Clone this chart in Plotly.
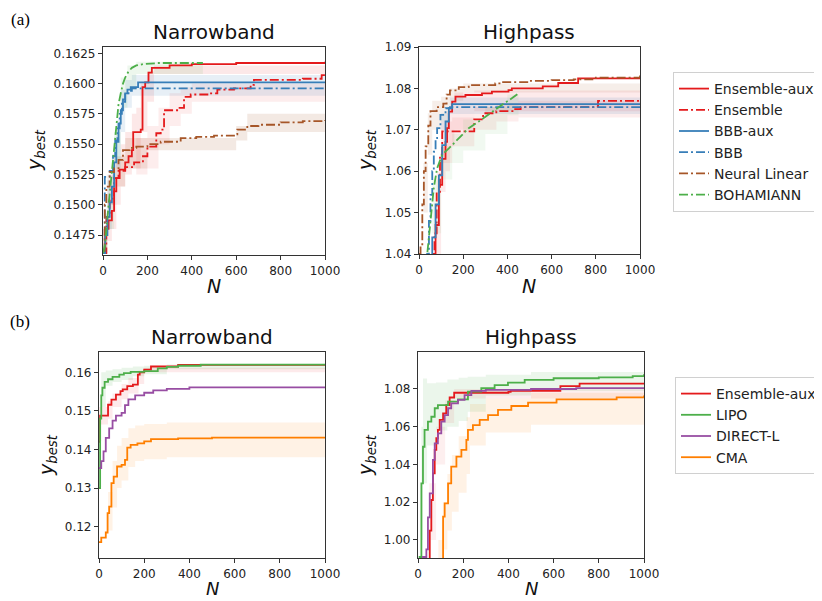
import plotly.graph_objects as go

# ---------------- DATA ----------------
# (a) Narrowband
ENS_AUX_A_NB_N = [0, 10, 25, 40, 50, 60, 75, 100, 115, 130, 136, 170, 178, 190, 205, 220, 300, 400, 600, 1000]
ENS_AUX_A_NB_Y = [0.1462, 0.1480, 0.1487, 0.1495, 0.1511, 0.1522, 0.1529, 0.1535, 0.1540, 0.1545, 0.1560, 0.1562,
                  0.1597, 0.1601, 0.1609, 0.1613, 0.1615, 0.1616, 0.1617, 0.1618]
ENS_A_NB_N = [0, 15, 30, 50, 70, 100, 140, 180, 200, 240, 260, 275, 345, 365, 395, 480, 515, 590, 665, 680, 900, 985, 1000]
ENS_A_NB_Y = [0.1460, 0.1490, 0.1505, 0.1522, 0.1528, 0.1531, 0.1535, 0.1540, 0.1548, 0.1559, 0.1562, 0.1578,
              0.1580, 0.1589, 0.1591, 0.1592, 0.1595, 0.1596, 0.1599, 0.1603, 0.1604, 0.1607, 0.1607]
BBB_AUX_A_NB_N = [0, 10, 20, 30, 40, 50, 60, 70, 80, 90, 100, 110, 125, 158, 1000]
BBB_AUX_A_NB_Y = [0.1460, 0.1475, 0.1490, 0.1502, 0.1515, 0.1535, 0.1552, 0.1567, 0.1578, 0.1587, 0.1592, 0.1595,
                  0.1597, 0.1601, 0.1601]
BBB_A_NB_N = [0, 8, 30, 45, 55, 65, 75, 85, 100, 115, 130, 1000]
BBB_A_NB_Y = [0.1462, 0.1523, 0.1528, 0.1540, 0.1553, 0.1563, 0.1575, 0.1585, 0.1591, 0.1594, 0.1596, 0.1596]
NL_A_NB_N = [0, 8, 15, 30, 50, 70, 90, 120, 150, 200, 260, 350, 420, 500, 590, 605, 650, 700, 800, 900, 1000]
NL_A_NB_Y = [0.1462, 0.1500, 0.1515, 0.1527, 0.1530, 0.1537, 0.1545, 0.1547, 0.1548, 0.1550, 0.1552, 0.1555,
             0.1556, 0.1557, 0.1558, 0.1562, 0.1565, 0.1566, 0.1568, 0.1569, 0.1570]
BOH_A_NB_N = [0, 10, 20, 30, 40, 50, 60, 70, 80, 90, 100, 115, 130, 150, 180, 250, 450]
BOH_A_NB_Y = [0.1460, 0.1468, 0.1490, 0.1508, 0.1528, 0.1547, 0.1568, 0.1583, 0.1592, 0.1600, 0.1605, 0.1610,
              0.1613, 0.1615, 0.1616, 0.1617, 0.1617]
# bands (a) Narrowband
ENS_AUX_A_NB_BN = [0, 20, 40, 60, 80, 100, 130, 150, 170, 200, 230, 1000]
ENS_AUX_A_NB_LO = [0.1460, 0.1470, 0.1480, 0.1500, 0.1515, 0.1525, 0.1530, 0.1530, 0.1560, 0.1585, 0.1608, 0.1613]
ENS_AUX_A_NB_HI = [0.1480, 0.1495, 0.1515, 0.1535, 0.1550, 0.1560, 0.1575, 0.1580, 0.1600, 0.1610, 0.1615, 0.1620]
ENS_A_NB_BN = [150, 200, 250, 300, 350, 400, 1000]
ENS_A_NB_LO = [0.1525, 0.1530, 0.1550, 0.1565, 0.1575, 0.1585, 0.1600]
ENS_A_NB_HI = [0.1555, 0.1565, 0.1580, 0.1592, 0.1597, 0.1600, 0.1608]
BBB_A_NB_BN = [20, 40, 60, 80, 100, 130, 1000]
BBB_A_NB_LO = [0.1480, 0.1500, 0.1530, 0.1560, 0.1580, 0.1590, 0.1590]
BBB_A_NB_HI = [0.1520, 0.1540, 0.1570, 0.1595, 0.1603, 0.1607, 0.1607]
NL_A_NB_BN = [0, 20, 50, 100, 200, 600, 650, 1000]
NL_A_NB_LO = [0.1460, 0.1500, 0.1515, 0.1530, 0.1545, 0.1553, 0.1560, 0.1562]
NL_A_NB_HI = [0.1480, 0.1525, 0.1540, 0.1555, 0.1555, 0.1565, 0.1575, 0.1580]
BOH_A_NB_BN = [20, 50, 80, 110, 150, 450]
BOH_A_NB_LO = [0.1480, 0.1535, 0.1580, 0.1595, 0.1608, 0.1612]
BOH_A_NB_HI = [0.1505, 0.1560, 0.1605, 0.1615, 0.1618, 0.1619]

# (a) Highpass
ENS_AUX_A_HP_N = [0, 55, 65, 75, 90, 105, 120, 127, 135, 150, 165, 210, 285, 330, 405, 420, 560, 630, 720, 1000]
ENS_AUX_A_HP_Y = [1.020, 1.030, 1.040, 1.047, 1.0567, 1.063, 1.0671, 1.0704, 1.0744, 1.0768, 1.078, 1.0784, 1.0788,
                  1.0792, 1.0796, 1.080, 1.0805, 1.0813, 1.0824, 1.0825]
ENS_A_HP_N = [0, 60, 70, 80, 95, 105, 240, 250, 290, 350, 430, 460, 800, 810, 1000]
ENS_A_HP_Y = [1.020, 1.035, 1.045, 1.055, 1.064, 1.0696, 1.0696, 1.0725, 1.074, 1.0745, 1.075, 1.0755, 1.0756,
              1.077, 1.077]
BBB_AUX_A_HP_N = [0, 50, 60, 75, 90, 105, 120, 135, 150, 1000]
BBB_AUX_A_HP_Y = [1.020, 1.038, 1.044, 1.052, 1.059, 1.0663, 1.072, 1.0752, 1.0762, 1.0762]
BBB_A_HP_N = [0, 37, 45, 52, 60, 67, 75, 82, 97, 120, 140, 1000]
BBB_A_HP_Y = [1.020, 1.040, 1.048, 1.0543, 1.060, 1.0647, 1.068, 1.0704, 1.0736, 1.0752, 1.0755, 1.0755]
NL_A_HP_N = [0, 7, 15, 22, 30, 42, 52, 80, 110, 125, 140, 180, 225, 345, 375, 500, 600, 700, 800, 1000]
NL_A_HP_Y = [1.040, 1.042, 1.052, 1.060, 1.066, 1.071, 1.0745, 1.0755, 1.0763, 1.0785, 1.0795, 1.0803, 1.0808,
             1.0812, 1.0815, 1.0818, 1.082, 1.0822, 1.0826, 1.0831]
BOH_A_HP_N = [0, 37, 45, 52, 60, 67, 82, 105, 135, 180, 225, 270, 330, 375, 420, 445]
BOH_A_HP_Y = [1.020, 1.040, 1.044, 1.0487, 1.052, 1.056, 1.0607, 1.064, 1.0655, 1.068, 1.0704, 1.072, 1.0744,
              1.076, 1.0776, 1.0786]
# bands (a) Highpass
NL_A_HP_BN = [20, 40, 60, 100, 140, 200, 1000]
NL_A_HP_LO = [1.050, 1.064, 1.070, 1.072, 1.077, 1.079, 1.082]
NL_A_HP_HI = [1.062, 1.074, 1.077, 1.078, 1.080, 1.0812, 1.0835]
BBB_A_HP_BN = [100, 140, 1000]
BBB_A_HP_LO = [1.070, 1.0738, 1.0738]
BBB_A_HP_HI = [1.074, 1.0778, 1.0778]
ENS_AUX_A_HP_BN = [80, 100, 120, 140, 160, 250, 1000]
ENS_AUX_A_HP_LO = [1.040, 1.055, 1.060, 1.066, 1.070, 1.0745, 1.0760]
ENS_AUX_A_HP_HI = [1.060, 1.066, 1.072, 1.077, 1.079, 1.0795, 1.0830]
ENS_A_HP_BN = [100, 150, 250, 350, 450, 1000]
ENS_A_HP_LO = [1.062, 1.066, 1.070, 1.072, 1.073, 1.074]
ENS_A_HP_HI = [1.072, 1.073, 1.0755, 1.0765, 1.077, 1.0785]
BOH_A_HP_BN = [60, 100, 150, 200, 300, 400, 450]
BOH_A_HP_LO = [1.045, 1.058, 1.062, 1.065, 1.069, 1.0735, 1.075]
BOH_A_HP_HI = [1.058, 1.066, 1.069, 1.0725, 1.0755, 1.0785, 1.080]

# (b) Narrowband
ENS_AUX_B_NB_N = [0, 5, 40, 55, 75, 95, 105, 125, 150, 172, 180, 200, 230, 350, 1000]
ENS_AUX_B_NB_Y = [0.1420, 0.1488, 0.1516, 0.1529, 0.1542, 0.1551, 0.1556, 0.1564, 0.1568, 0.1594, 0.1600, 0.1607,
                  0.1615, 0.1619, 0.1620]
LIPO_B_NB_N = [0, 5, 10, 15, 25, 40, 60, 90, 110, 140, 200, 260, 300, 350, 450, 1000]
LIPO_B_NB_Y = [0.1300, 0.1480, 0.1540, 0.1560, 0.1575, 0.1582, 0.1588, 0.1594, 0.1598, 0.1601, 0.1603, 0.1610,
               0.1614, 0.1617, 0.1620, 0.1621]
DIR_B_NB_N = [0, 10, 20, 30, 45, 60, 75, 100, 115, 130, 160, 200, 240, 300, 400, 1000]
DIR_B_NB_Y = [0.1352, 0.1370, 0.1395, 0.1430, 0.1455, 0.1475, 0.1488, 0.1495, 0.1515, 0.1530, 0.1540, 0.1547,
              0.1553, 0.1557, 0.1561, 0.1562]
CMA_B_NB_N = [0, 10, 30, 38, 45, 55, 65, 80, 100, 115, 125, 140, 170, 200, 230, 350, 500, 1000]
CMA_B_NB_Y = [0.1160, 0.1172, 0.1185, 0.1235, 0.1252, 0.1313, 0.1330, 0.1356, 0.1360, 0.1373, 0.1405, 0.1412,
              0.1416, 0.1421, 0.1427, 0.1429, 0.1431, 0.1432]
CMA_B_NB_BN = [40, 60, 80, 100, 130, 160, 200, 300, 1000]
CMA_B_NB_LO = [0.1190, 0.1250, 0.1300, 0.1320, 0.1355, 0.1370, 0.1375, 0.1380, 0.1385]
CMA_B_NB_HI = [0.1290, 0.1370, 0.1410, 0.1430, 0.1455, 0.1462, 0.1466, 0.1470, 0.1478]
LIPO_B_NB_BN = [10, 30, 60, 100, 150, 200, 300, 1000]
LIPO_B_NB_LO = [0.1510, 0.1565, 0.1575, 0.1580, 0.1590, 0.1595, 0.1608, 0.1618]
LIPO_B_NB_HI = [0.1600, 0.1605, 0.1608, 0.1612, 0.1615, 0.1617, 0.1620, 0.1623]
ENS_AUX_B_NB_BN = [0, 40, 60, 100, 130, 175, 200, 1000]
ENS_AUX_B_NB_LO = [0.1465, 0.1480, 0.1510, 0.1530, 0.1545, 0.1570, 0.1600, 0.1617]
ENS_AUX_B_NB_HI = [0.1510, 0.1525, 0.1545, 0.1570, 0.1585, 0.1605, 0.1612, 0.1622]

# (b) Highpass
ENS_AUX_B_HP_N = [0, 45, 52, 59, 66, 74, 81, 88, 96, 111, 125, 140, 160, 400, 410, 630, 715, 1000]
ENS_AUX_B_HP_Y = [0.960, 0.990, 1.005, 1.0212, 1.0353, 1.0477, 1.0539, 1.0583, 1.0636, 1.0671, 1.0715, 1.0755,
                  1.0780, 1.0785, 1.079, 1.0815, 1.0828, 1.0828]
LIPO_B_HP_N = [0, 7, 15, 22, 29, 44, 59, 74, 88, 133, 177, 221, 280, 339, 398, 472, 600, 800, 950, 1000]
LIPO_B_HP_Y = [0.960, 0.991, 1.030, 1.0494, 1.0583, 1.0627, 1.0653, 1.0698, 1.0715, 1.0733, 1.0745, 1.0786,
               1.0804, 1.0821, 1.0834, 1.0848, 1.0857, 1.0862, 1.0868, 1.0878]
DIR_B_HP_N = [0, 22, 37, 44, 52, 66, 74, 88, 103, 118, 133, 147, 177, 206, 236, 300, 500, 700, 1000]
DIR_B_HP_Y = [0.985, 0.991, 0.995, 1.012, 1.0247, 1.0424, 1.0512, 1.0565, 1.0627, 1.0662, 1.0698, 1.0724, 1.0742,
              1.0768, 1.0790, 1.0795, 1.0800, 1.0805, 1.0808]
CMA_B_HP_N = [0, 96, 111, 118, 133, 147, 170, 192, 214, 221, 243, 273, 310, 354, 413, 487, 613, 879, 1000]
CMA_B_HP_Y = [0.950, 0.990, 1.0124, 1.0194, 1.030, 1.0389, 1.0442, 1.0477, 1.053, 1.0583, 1.0609, 1.0636, 1.0662,
              1.0689, 1.071, 1.0728, 1.0745, 1.0756, 1.0765]
LIPO_B_HP_BN = [15, 22, 40, 80, 130, 180, 220, 300, 500, 1000]
LIPO_B_HP_LO = [1.000, 1.030, 1.050, 1.058, 1.060, 1.063, 1.068, 1.0765, 1.079, 1.083]
LIPO_B_HP_HI = [1.060, 1.0855, 1.083, 1.0835, 1.085, 1.086, 1.0865, 1.0875, 1.089, 1.091]
CMA_B_HP_BN = [90, 110, 130, 150, 180, 215, 230, 300, 500, 1000]
CMA_B_HP_LO = [0.990, 0.995, 1.005, 1.015, 1.025, 1.035, 1.050, 1.057, 1.061, 1.0635]
CMA_B_HP_HI = [1.000, 1.020, 1.035, 1.045, 1.055, 1.065, 1.072, 1.075, 1.078, 1.080]
ENS_AUX_B_HP_BN = [50, 80, 120, 160, 1000]
ENS_AUX_B_HP_LO = [1.000, 1.040, 1.062, 1.075, 1.0795]
ENS_AUX_B_HP_HI = [1.030, 1.060, 1.074, 1.080, 1.0835]

X_TICKS = [0, 200, 400, 600, 800, 1000]
Y_TICKS_A_NB = [0.1475, 0.1500, 0.1525, 0.1550, 0.1575, 0.1600, 0.1625]
Y_TICKS_A_HP = [1.04, 1.05, 1.06, 1.07, 1.08, 1.09]
Y_TICKS_B_NB = [0.12, 0.13, 0.14, 0.15, 0.16]
Y_TICKS_B_HP = [1.00, 1.02, 1.04, 1.06, 1.08]

# ---------------- STYLE ----------------
RED = "#e41a1c"
BLUE = "#377eb8"
BROWN = "#a65628"
GREEN = "#4daf4a"
PURPLE = "#984ea3"
ORANGE = "#ff7f00"
DASHDOT = "9px,3px,2px,3px"
FONT = "DejaVu Sans"
LW = 1.8


def rgba(hexc, a):
    h = hexc.lstrip("#")
    return "rgba(%d,%d,%d,%.3f)" % (int(h[0:2], 16), int(h[2:4], 16), int(h[4:6], 16), a)


fig = go.Figure()


def band(xa, ya, n, lo, hi, color, alpha=0.13):
    fig.add_trace(go.Scatter(x=n, y=lo, xaxis=xa, yaxis=ya, mode="lines", line=dict(width=0, shape="hv"),
                             showlegend=False, hoverinfo="skip"))
    fig.add_trace(go.Scatter(x=n, y=hi, xaxis=xa, yaxis=ya, mode="lines", line=dict(width=0, shape="hv"),
                             fill="tonexty", fillcolor=rgba(color, alpha), showlegend=False, hoverinfo="skip"))


def line(xa, ya, n, y, color, name=None, dash="solid", legend=None, shape="hv"):
    fig.add_trace(go.Scatter(x=n, y=y, xaxis=xa, yaxis=ya, mode="lines", name=name,
                             line=dict(color=color, width=LW, dash=dash, shape=shape),
                             showlegend=name is not None, legend=legend))


# panel 1: (a) narrowband
band("x", "y", NL_A_NB_BN, NL_A_NB_LO, NL_A_NB_HI, BROWN)
band("x", "y", ENS_AUX_A_NB_BN, ENS_AUX_A_NB_LO, ENS_AUX_A_NB_HI, RED, 0.10)
band("x", "y", ENS_A_NB_BN, ENS_A_NB_LO, ENS_A_NB_HI, RED, 0.08)
band("x", "y", BBB_A_NB_BN, BBB_A_NB_LO, BBB_A_NB_HI, BLUE, 0.12)
band("x", "y", BOH_A_NB_BN, BOH_A_NB_LO, BOH_A_NB_HI, GREEN, 0.10)
line("x", "y", ENS_AUX_A_NB_N, ENS_AUX_A_NB_Y, RED, "Ensemble-aux", legend="legend")
line("x", "y", ENS_A_NB_N, ENS_A_NB_Y, RED, "Ensemble", DASHDOT, legend="legend")
line("x", "y", BBB_AUX_A_NB_N, BBB_AUX_A_NB_Y, BLUE, "BBB-aux", legend="legend")
line("x", "y", BBB_A_NB_N, BBB_A_NB_Y, BLUE, "BBB", DASHDOT, legend="legend")
line("x", "y", NL_A_NB_N, NL_A_NB_Y, BROWN, "Neural Linear", DASHDOT, legend="legend")
line("x", "y", BOH_A_NB_N, BOH_A_NB_Y, GREEN, "BOHAMIANN", DASHDOT, legend="legend", shape="linear")

# panel 2: (a) highpass
band("x2", "y2", NL_A_HP_BN, NL_A_HP_LO, NL_A_HP_HI, BROWN, 0.10)
band("x2", "y2", ENS_AUX_A_HP_BN, ENS_AUX_A_HP_LO, ENS_AUX_A_HP_HI, RED, 0.09)
band("x2", "y2", ENS_A_HP_BN, ENS_A_HP_LO, ENS_A_HP_HI, RED, 0.08)
band("x2", "y2", BBB_A_HP_BN, BBB_A_HP_LO, BBB_A_HP_HI, BLUE, 0.12)
band("x2", "y2", BOH_A_HP_BN, BOH_A_HP_LO, BOH_A_HP_HI, GREEN, 0.08)
line("x2", "y2", ENS_AUX_A_HP_N, ENS_AUX_A_HP_Y, RED)
line("x2", "y2", ENS_A_HP_N, ENS_A_HP_Y, RED, dash=DASHDOT)
line("x2", "y2", BBB_AUX_A_HP_N, BBB_AUX_A_HP_Y, BLUE)
line("x2", "y2", BBB_A_HP_N, BBB_A_HP_Y, BLUE, dash=DASHDOT)
line("x2", "y2", NL_A_HP_N, NL_A_HP_Y, BROWN, dash=DASHDOT)
line("x2", "y2", BOH_A_HP_N, BOH_A_HP_Y, GREEN, dash=DASHDOT, shape="linear")

# panel 3: (b) narrowband
band("x3", "y3", CMA_B_NB_BN, CMA_B_NB_LO, CMA_B_NB_HI, ORANGE, 0.10)
band("x3", "y3", LIPO_B_NB_BN, LIPO_B_NB_LO, LIPO_B_NB_HI, GREEN, 0.12)
band("x3", "y3", ENS_AUX_B_NB_BN, ENS_AUX_B_NB_LO, ENS_AUX_B_NB_HI, RED, 0.09)
line("x3", "y3", ENS_AUX_B_NB_N, ENS_AUX_B_NB_Y, RED, "Ensemble-aux", legend="legend2")
line("x3", "y3", LIPO_B_NB_N, LIPO_B_NB_Y, GREEN, "LIPO", legend="legend2")
line("x3", "y3", DIR_B_NB_N, DIR_B_NB_Y, PURPLE, "DIRECT-L", legend="legend2")
line("x3", "y3", CMA_B_NB_N, CMA_B_NB_Y, ORANGE, "CMA", legend="legend2")

# panel 4: (b) highpass
band("x4", "y4", CMA_B_HP_BN, CMA_B_HP_LO, CMA_B_HP_HI, ORANGE, 0.10)
band("x4", "y4", LIPO_B_HP_BN, LIPO_B_HP_LO, LIPO_B_HP_HI, GREEN, 0.11)
band("x4", "y4", ENS_AUX_B_HP_BN, ENS_AUX_B_HP_LO, ENS_AUX_B_HP_HI, RED, 0.07)
line("x4", "y4", ENS_AUX_B_HP_N, ENS_AUX_B_HP_Y, RED)
line("x4", "y4", LIPO_B_HP_N, LIPO_B_HP_Y, GREEN)
line("x4", "y4", DIR_B_HP_N, DIR_B_HP_Y, PURPLE)
line("x4", "y4", CMA_B_HP_N, CMA_B_HP_Y, ORANGE)

# the page body has an 8px margin, so the figure starts at (8, 8) of the window
OFF = 8
W, H = 822 - OFF, 601 - OFF


def px2x(px):
    return (px - OFF) / W


def px2y(py):
    return 1 - (py - OFF) / H


axis_common = dict(showgrid=False, zeroline=False, showline=True, linecolor="#333", linewidth=1.2, mirror=True,
                   ticks="outside", ticklen=4, tickcolor="#333", tickfont=dict(family=FONT, size=12, color="#222"))

panels = [
    ("xaxis", "yaxis", "x", (103, 325), (47, 255), [0.14585, 0.16302], Y_TICKS_A_NB, ".4f"),
    ("xaxis2", "yaxis2", "x2", (419, 640), (47, 254), [1.04, 1.09], Y_TICKS_A_HP, ".2f"),
    ("xaxis3", "yaxis3", "x3", (99, 325), (352, 558), [0.1119, 0.16526], Y_TICKS_B_NB, ".2f"),
    ("xaxis4", "yaxis4", "x4", (418, 644), (352, 558), [0.99046, 1.0996], Y_TICKS_B_HP, ".2f"),
]
layout = {}
for xk, yk, xa, (l, r), (t, b), yr, yt, fmt in panels:
    ya = "y" + xa[1:]
    layout[xk] = dict(axis_common, domain=[px2x(l), px2x(r)], range=[0, 1000], tickvals=X_TICKS, anchor=ya)
    layout[yk] = dict(axis_common, domain=[px2y(b), px2y(t)], range=yr, tickvals=yt, tickformat=fmt, anchor=xa)

annotations = []


def ann(text, x, y, size, family=FONT, angle=0, color="#111"):
    annotations.append(dict(text=text, x=px2x(x), y=px2y(y), xref="paper", yref="paper", showarrow=False,
                            xanchor="center", yanchor="middle", textangle=angle,
                            font=dict(family=family, size=size, color=color)))


ann("Narrowband", 214, 32, 20)
ann("Highpass", 529, 32, 20)
ann("Narrowband", 212, 337, 20)
ann("Highpass", 531, 337, 20)
ann("<i>N</i>", 214, 286, 19)
ann("<i>N</i>", 529, 286, 19)
ann("<i>N</i>", 212, 588, 18)
ann("<i>N</i>", 531, 588, 18)
ann("<i>y</i><sub><i>best</i></sub>", 35, 150, 19, angle=-90)
ann("<i>y</i><sub><i>best</i></sub>", 366, 150, 19, angle=-90)
ann("<i>y</i><sub><i>best</i></sub>", 47, 455, 19, angle=-90)
ann("<i>y</i><sub><i>best</i></sub>", 366, 455, 19, angle=-90)
ann("(a)", 20, 20, 17, family="Liberation Serif", color="#000")
ann("(b)", 20, 321, 17, family="Liberation Serif", color="#000")

legend_common = dict(font=dict(family=FONT, size=14, color="#222"), bgcolor="white", bordercolor="#d0d0d0",
                     borderwidth=1, xanchor="left", yanchor="top", tracegroupgap=0, traceorder="normal")

fig.update_layout(
    width=W, height=H, margin=dict(l=0, r=0, t=0, b=0, autoexpand=False),
    paper_bgcolor="white", plot_bgcolor="white",
    annotations=annotations,
    legend=dict(legend_common, x=px2x(673), y=px2y(72)),
    legend2=dict(legend_common, x=px2x(675), y=px2y(377)),
    **layout,
)

fig.write_html("out.html")
